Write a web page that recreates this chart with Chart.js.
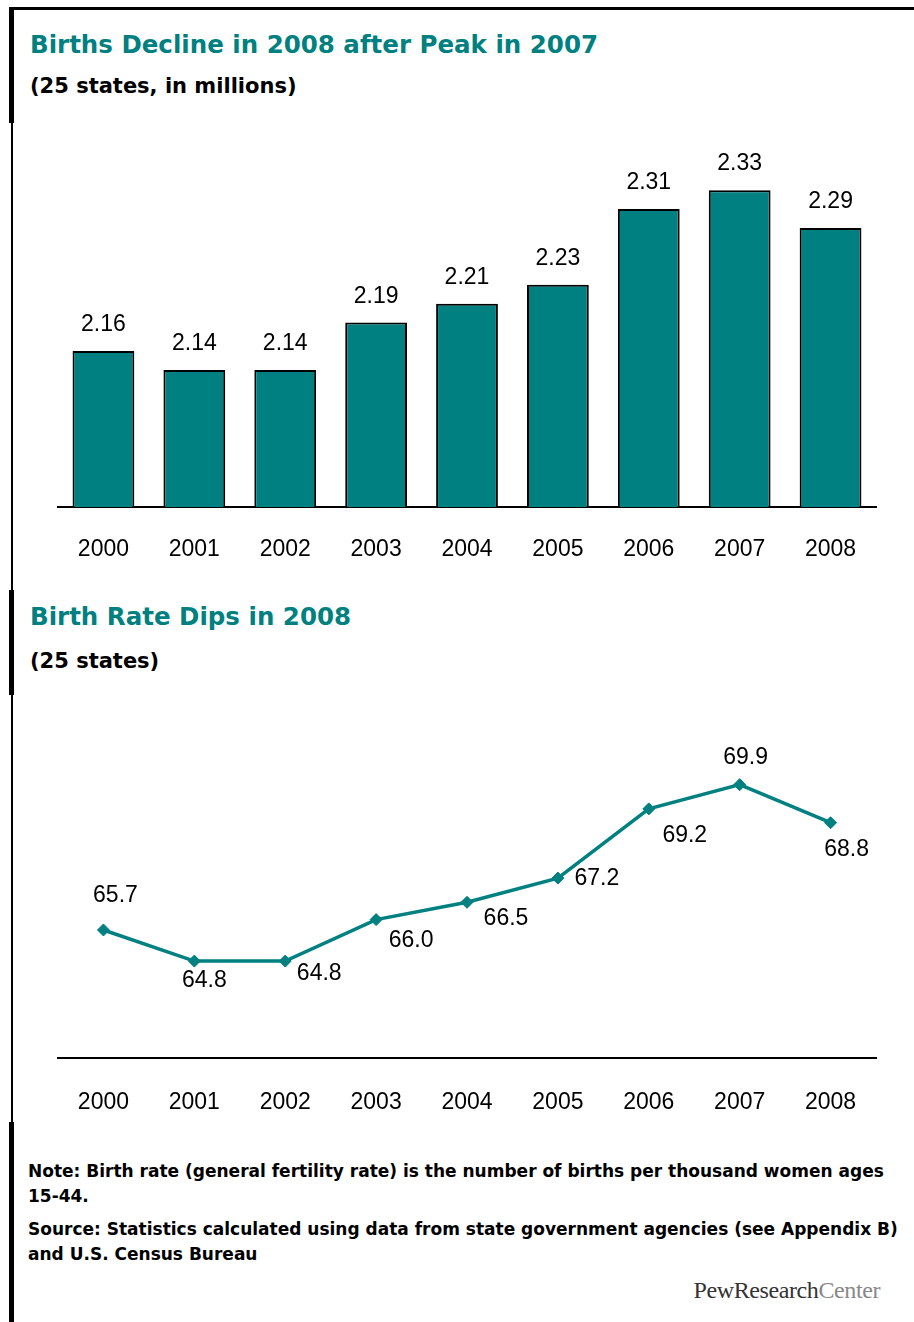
<!DOCTYPE html>
<html>
<head>
<meta charset="utf-8">
<script src="https://cdn.jsdelivr.net/npm/chart.js@4.4.1/dist/chart.umd.min.js"></script>
<style>
    body { margin: 0; background: #fff; }
    #hoja { position: relative; width: 914px; height: 1322px; overflow: hidden; background: #fff; }
    .linea { position: absolute; background: #000; }
    .titulo { position: absolute; left: 30px; font: bold 24.5px "DejaVu Sans"; color: #008080; line-height: 24px; white-space: nowrap; }
    .subtitulo { position: absolute; left: 30px; font: bold 21px "DejaVu Sans"; color: #000; line-height: 21px; white-space: nowrap; }
    .nota { position: absolute; left: 28px; font: bold 17px "DejaVu Sans"; color: #000; line-height: 17px; white-space: nowrap; }
    .grafico { position: absolute; left: 0; }
    #logo { position: absolute; right: 34px; top: 1278px; font: 24px "Liberation Serif"; color: #333; line-height: 24px; letter-spacing: -0.4px; }
    #logo span { color: #888; }
</style>
</head>
<body>
<div id="hoja">
    <!-- marco -->
    <div class="linea" style="left:10px; top:7px; width:904px; height:3px;"></div>
    <div class="linea" style="left:11px; top:7px; width:2px; height:1315px;"></div>
    <div class="linea" style="left:9px; top:7px; width:5px; height:116px;"></div>
    <div class="linea" style="left:9px; top:590px; width:5px; height:105px;"></div>
    <div class="linea" style="left:9px; top:1122px; width:5px; height:200px;"></div>

    <div class="titulo" style="top:33px;">Births Decline in 2008 after Peak in 2007</div>
    <div class="subtitulo" style="top:76px;">(25 states,  in millions)</div>
    <canvas id="graficoNacimientos" class="grafico" style="top:100px;" width="914" height="480"></canvas>

    <div class="titulo" style="top:605px;">Birth Rate Dips in 2008</div>
    <div class="subtitulo" style="top:651px;">(25 states)</div>
    <canvas id="graficoTasa" class="grafico" style="top:680px;" width="914" height="450"></canvas>

    <div class="nota" style="top:1163px;">Note: Birth rate (general fertility rate) is the number of births per thousand women ages</div>
    <div class="nota" style="top:1188px;">15-44.</div>
    <div class="nota" style="top:1221px;">Source: Statistics calculated using data from state government agencies (see Appendix B)</div>
    <div class="nota" style="top:1246px;">and U.S. Census Bureau</div>
    <div id="logo">PewResearch<span>Center</span></div>
</div>

<script>
// Datos
const anios = ['2000', '2001', '2002', '2003', '2004', '2005', '2006', '2007', '2008'];
const nacimientos = [2.16, 2.14, 2.14, 2.19, 2.21, 2.23, 2.31, 2.33, 2.29];   // millones
const tasaNatalidad = [65.7, 64.8, 64.8, 66.0, 66.5, 67.2, 69.2, 69.9, 68.8]; // por mil mujeres 15-44

const verde = '#008080';
const fuenteValores = '23px "Liberation Sans", Arial, sans-serif';

// Posición de cada etiqueta respecto a su punto (dx al centro, dy a la línea base)
const desplazamientos = [[12, -28], [10, 26], [34, 19], [35, 27], [39, 23], [39, 7], [36, 33], [6, -21], [16, 33]];

// Etiquetas encima de las barras
const etiquetasBarras = {
    id: 'etiquetasBarras',
    afterDatasetsDraw(chart) {
        const ctx = chart.ctx;
        const meta = chart.getDatasetMeta(0);
        ctx.save();
        ctx.font = fuenteValores;
        ctx.fillStyle = '#000';
        ctx.textAlign = 'center';
        ctx.textBaseline = 'alphabetic';
        meta.data.forEach((barra, i) => {
            ctx.fillText(chart.data.datasets[0].data[i].toFixed(2), barra.x, barra.y - 20);
        });
        ctx.restore();
    }
};

// Etiquetas junto a los puntos de la línea (se pintan debajo de la línea)
const etiquetasPuntos = {
    id: 'etiquetasPuntos',
    beforeDatasetsDraw(chart) {
        const ctx = chart.ctx;
        const meta = chart.getDatasetMeta(0);
        ctx.save();
        ctx.font = fuenteValores;
        ctx.fillStyle = '#000';
        ctx.textAlign = 'center';
        ctx.textBaseline = 'alphabetic';
        meta.data.forEach((punto, i) => {
            const d = desplazamientos[i];
            ctx.fillText(chart.data.datasets[0].data[i].toFixed(1), punto.x + d[0], punto.y + d[1]);
        });
        ctx.restore();
    }
};

function ejeX(alto, separacion) {
    return {
        grid: { display: false, drawTicks: false },
        border: { display: true, color: '#000', width: 2 },
        ticks: { color: '#000', font: { family: '"Liberation Sans", Arial, sans-serif', size: 23 }, padding: separacion, maxRotation: 0 },
        afterFit(scale) { scale.height = alto; }
    };
}

Chart.defaults.animation = false;

new Chart(document.getElementById('graficoNacimientos'), {
    type: 'bar',
    data: {
        labels: anios,
        datasets: [{
            data: nacimientos,
            backgroundColor: verde,
            borderColor: '#000',
            borderWidth: 2,
            barPercentage: 0.68,
            categoryPercentage: 1
        }]
    },
    options: {
        responsive: false,
        devicePixelRatio: 1,
        layout: { padding: { left: 58, right: 38, top: 24, bottom: 0 } },
        plugins: { legend: { display: false }, tooltip: { enabled: false } },
        scales: {
            x: ejeX(73, 29),
            y: { display: false, min: 1.995, max: 2.4 }
        }
    },
    plugins: [etiquetasBarras]
});

new Chart(document.getElementById('graficoTasa'), {
    type: 'line',
    data: {
        labels: anios,
        datasets: [{
            data: tasaNatalidad,
            borderColor: verde,
            borderWidth: 3.5,
            tension: 0,
            pointStyle: 'rectRot',
            pointRadius: 6,
            pointBackgroundColor: verde,
            pointBorderColor: verde,
            pointBorderWidth: 1
        }]
    },
    options: {
        responsive: false,
        devicePixelRatio: 1,
        layout: { padding: { left: 58, right: 38, top: 32, bottom: 0 } },
        plugins: { legend: { display: false }, tooltip: { enabled: false } },
        scales: {
            x: Object.assign(ejeX(72, 31), { offset: true }),
            y: { display: false, min: 62, max: 72 }
        }
    },
    plugins: [etiquetasPuntos]
});
</script>
</body>
</html>
